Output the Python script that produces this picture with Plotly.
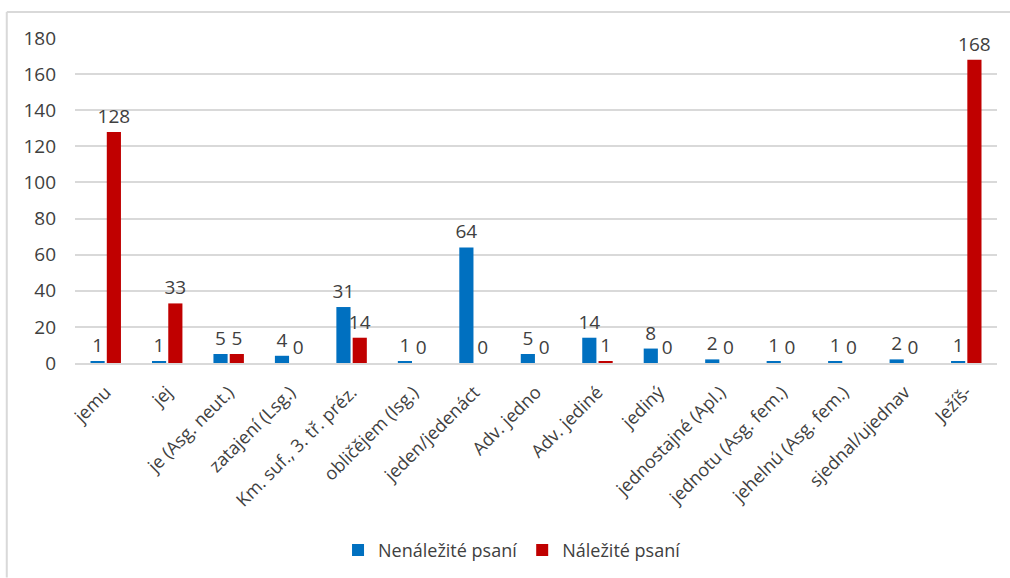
import plotly.graph_objects as go

categories = [
    "jemu", "jej", "je (Asg. neut.)", "zatajení (Lsg.)", "Km. suf., 3. tř. préz.",
    "obličějem (Isg.)", "jeden/jedenáct", "Adv. jedno", "Adv. jediné", "jediný",
    "jednostajné (Apl.)", "jednotu (Asg. fem.)", "jehelnú (Asg. fem.)",
    "sjednal/ujednav", "Ježíš-",
]
nenalezite = [1, 1, 5, 4, 31, 1, 64, 5, 14, 8, 2, 1, 1, 2, 1]
nalezite = [128, 33, 5, 0, 14, 0, 0, 0, 1, 0, 0, 0, 0, 0, 168]
y_ticks = [0, 20, 40, 60, 80, 100, 120, 140, 160, 180]

BLUE = "#0070C0"
RED = "#C00000"
TEXT = "#404040"
FONT = "Open Sans"

fig = go.Figure()
for name, vals, color in [("Nenáležité psaní", nenalezite, BLUE),
                          ("Náležité psaní", nalezite, RED)]:
    fig.add_trace(go.Bar(
        x=categories, y=vals, name=name,
        marker=dict(color=color, line=dict(width=0)),
        text=vals, textposition="outside", cliponaxis=False,
        constraintext="none",
        textfont=dict(family=FONT, size=19, color=TEXT),
    ))

fig.update_layout(
    width=1010, height=578,
    margin=dict(l=75, r=13, t=38, b=215),
    paper_bgcolor="white", plot_bgcolor="white",
    barmode="group", bargap=0.47, bargroupgap=0.13,
    font=dict(family=FONT, size=18, color=TEXT),
    showlegend=True,
    legend=dict(
        orientation="h", x=0.474, xanchor="center",
        yref="container", y=0.048, yanchor="middle",
        font=dict(family=FONT, size=18, color=TEXT),
        traceorder="normal",
    ),
    xaxis=dict(
        tickangle=-45, showgrid=False, showline=True,
        linecolor="#D9D9D9", linewidth=1.5, ticks="",
        ticklabelstandoff=10,
        tickfont=dict(family=FONT, size=18, color=TEXT),
    ),
    yaxis=dict(
        range=[0, 180], tickvals=y_ticks, showgrid=True,
        gridcolor="#D9D9D9", gridwidth=1.5, zeroline=False,
        showline=False, ticks="", ticklabelstandoff=18,
        tickfont=dict(family=FONT, size=19, color=TEXT),
    ),
    shapes=[
        dict(type="line", xref="paper", yref="paper",
             x0=-0.074, x1=1.02, y0=1.08, y1=1.08,
             line=dict(color="#D9D9D9", width=2)),
        dict(type="line", xref="paper", yref="paper",
             x0=-0.074, x1=-0.074, y0=1.08, y1=-0.66,
             line=dict(color="#D9D9D9", width=2)),
    ],
)

fig.write_html("out.html")
